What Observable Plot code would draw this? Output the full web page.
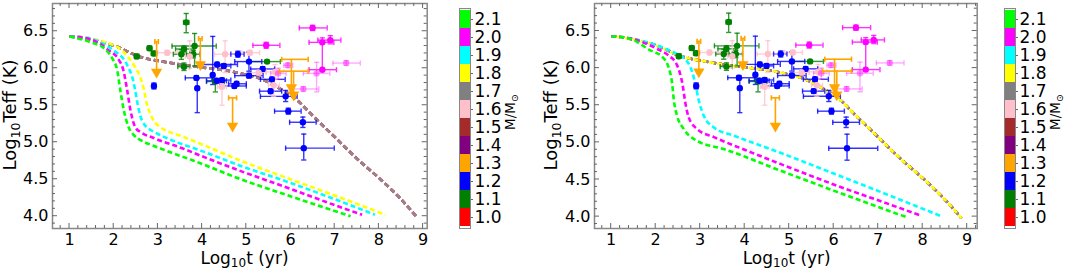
<!DOCTYPE html>
<html><head><meta charset="utf-8">
<script src="https://cdn.jsdelivr.net/npm/d3@7"></script>
<script src="https://cdn.jsdelivr.net/npm/@observablehq/plot@0.6"></script>
<style>
body{margin:0;background:#fff;font-family:"DejaVu Sans";}
#root{position:relative;width:1065px;height:270px;overflow:hidden;background:#fff;}
#root > svg{position:absolute;top:0;}
</style></head><body><div id="root"></div>
<script>
// ---------- colour bar categories ----------
const massLevels = ["1.0","1.1","1.2","1.3","1.4","1.5","1.6","1.7","1.8","1.9","2.0","2.1"];
const massColors = ["#ff0000","#008000","#0000ff","#ffa500","#800080","#a52a2a","#ffc0cb","#808080","#ffff00","#00ffff","#ff00ff","#00ff00"];

// ---------- axis ticks ----------
const xTickValues = [1,2,3,4,5,6,7,8,9];
const yTickValues = [4.0,4.5,5.0,5.5,6.0,6.5];

// ---------- model tracks ----------
// shared upper track (low masses)
const upperLogT    = [1.0,1.55,2.08,2.52,3.21,4.0,4.64,4.87,5.4,5.77,6.07,6.5,7.0,7.5,8.07,8.5,8.87];
const upperLogTeff = [6.43,6.38,6.29,6.17,6.08,6.01,5.96,5.93,5.84,5.72,5.61,5.36,5.07,4.78,4.48,4.23,3.98];
// left panel
const leftYellowT    = [1.0,1.4,1.81,2.19,2.38,2.5,2.6,2.68,2.75,2.83,2.93,3.06,3.21,3.5,4.0,4.83,6.0,7.0,8.15];
const leftYellowTeff = [6.43,6.41,6.35,6.24,6.11,6.0,5.88,5.72,5.52,5.38,5.27,5.20,5.15,5.09,4.97,4.76,4.50,4.28,4.02];
const leftCyanT      = [1.0,1.4,1.7,2.0,2.24,2.34,2.42,2.48,2.54,2.6,2.68,2.8,2.91,3.3,4.0,4.83,6.0,7.0,7.91];
const leftCyanTeff   = [6.43,6.41,6.35,6.24,6.11,6.0,5.88,5.72,5.52,5.36,5.25,5.18,5.14,5.03,4.88,4.69,4.45,4.23,4.02];
const leftMagentaT   = [1.0,1.35,1.63,1.89,2.12,2.22,2.30,2.38,2.49,2.6,2.68,2.85,3.06,3.5,4.0,4.83,6.0,7.0,7.62];
const leftMagentaTeff= [6.43,6.41,6.35,6.24,6.11,5.97,5.72,5.43,5.20,5.14,5.11,5.07,5.02,4.93,4.81,4.62,4.37,4.15,4.02];
const leftLimeT      = [1.0,1.48,1.78,1.97,2.08,2.15,2.23,2.34,2.45,2.55,2.7,2.91,3.3,3.81,4.83,6.0,7.0,7.36];
const leftLimeTeff   = [6.43,6.35,6.27,6.13,5.97,5.70,5.43,5.20,5.10,5.05,5.00,4.95,4.86,4.75,4.51,4.27,4.07,4.0];
// right panel
const rightCyanT      = [1.0,1.6,2.1,2.41,2.6,2.74,2.82,2.89,2.97,3.08,3.31,3.76,4.8,6.0,6.98,8.44];
const rightCyanTeff   = [6.43,6.38,6.29,6.21,6.15,6.06,5.95,5.79,5.56,5.36,5.20,5.09,4.86,4.58,4.35,4.0];
const rightMagentaT   = [1.0,1.5,2.03,2.29,2.48,2.6,2.67,2.74,2.93,3.31,4.0,4.8,6.38,7.0,7.97];
const rightMagentaTeff= [6.43,6.39,6.26,6.17,6.04,5.79,5.52,5.34,5.18,5.07,4.90,4.71,4.35,4.22,4.01];
const rightLimeT      = [1.0,1.4,1.88,2.15,2.29,2.37,2.41,2.48,2.63,2.93,3.53,4.8,6.0,7.0,7.65];
const rightLimeTeff   = [6.43,6.40,6.24,6.15,6.01,5.79,5.56,5.36,5.18,5.02,4.91,4.62,4.35,4.13,3.99];

// ---------- observed remnants ----------
const obsMass = ["1.1","1.1","1.1","1.1","1.1","1.1","1.1","1.1","1.1","1.1","1.1",
  "1.2","1.2","1.2","1.2","1.2","1.2","1.2","1.2","1.2","1.2","1.2","1.2","1.2","1.2","1.2","1.2","1.2","1.2","1.2","1.2",
  "1.6","1.6","1.6","1.6","1.6","1.6","1.6","1.6",
  "2.0","2.0","2.0","2.0","2.0",
  "2.0","2.0","2.0","2.0","2.0"];
const obsLogT = [3.64,2.81,2.91,2.52,3.83,3.59,3.53,3.80,3.59,4.30,5.47,
  2.91,3.89,3.87,4.24,4.34,4.49,4.33,4.45,4.73,4.78,4.81,5.06,5.37,5.06,5.58,5.55,5.89,5.95,6.28,6.30,
  3.21,3.72,4.52,4.45,5.08,5.28,5.62,5.65,
  7.26,6.59,6.29,5.94,5.72,
  6.50,5.45,6.72,6.90,6.72];
const obsLogTeff = [6.62,6.27,6.20,6.16,6.30,6.26,6.19,6.19,6.02,5.82,6.09,
  5.76,5.73,5.87,5.91,6.05,6.03,5.83,5.84,5.76,5.79,6.19,6.09,5.99,5.90,5.85,5.69,5.62,5.42,5.27,4.92,
  6.21,6.16,6.19,5.75,6.21,5.94,5.77,5.95,
  6.07,5.93,5.72,6.04,5.93,
  6.545,6.31,6.35,6.38,5.98];
const obsLogTMin = [3.58,2.76,2.85,2.47,3.32,3.40,3.35,3.65,3.45,4.10,5.10,
  2.87,3.86,3.62,4.21,3.98,4.35,4.10,4.25,4.40,4.60,4.65,4.74,5.10,4.74,5.32,5.30,5.32,5.64,5.98,5.89,
  3.00,3.62,4.28,4.35,4.90,5.10,5.50,5.45,
  6.96,6.29,6.00,5.85,5.55,
  6.20,5.15,6.42,6.62,6.42];
const obsLogTMax = [3.70,2.86,2.97,2.57,4.32,3.80,3.72,3.95,3.72,4.50,5.77,
  2.95,3.92,4.22,4.27,4.80,4.65,4.55,4.65,5.00,5.00,4.95,5.35,5.64,5.38,5.88,5.80,6.15,6.24,6.58,6.99,
  3.45,3.82,4.80,4.55,5.30,5.45,5.75,5.85,
  7.58,6.89,6.64,6.05,5.90,
  6.83,5.76,6.98,7.14,7.04];
const obsLogTeffMin = [6.48,6.24,6.17,6.13,6.03,6.22,6.12,6.14,5.97,5.68,6.07,
  5.72,5.40,5.84,5.78,6.02,6.00,5.80,5.81,5.73,5.76,6.15,5.96,5.96,5.87,5.82,5.66,5.55,5.38,5.20,4.76,
  6.18,6.00,5.94,5.50,6.18,5.91,5.62,5.85,
  6.04,5.68,5.69,6.01,5.85,
  6.51,6.27,6.33,6.33,5.96];
const obsLogTeffMax = [6.74,6.30,6.23,6.19,6.47,6.30,6.25,6.24,6.07,5.86,6.11,
  5.80,5.86,5.90,6.43,6.08,6.06,5.86,5.87,5.79,5.82,6.23,6.22,6.02,5.93,5.88,5.72,5.70,5.46,5.34,5.11,
  6.24,6.37,6.37,5.83,6.24,5.97,5.85,6.05,
  6.10,6.08,5.75,6.07,6.00,
  6.58,6.35,6.37,6.44,6.41];
const obsAlpha = [1,1,1,1,1,1,1,1,1,1,1,
  1,1,1,1,1,1,1,1,1,1,1,1,1,1,1,1,1,1,1,1,
  1,1,1,1,1,1,1,1,
  0.42,0.42,0.42,0.42,0.42,
  1,1,1,1,1];

// ---------- upper limits (orange, 1.3) ----------
const ulMass = ["1.3","1.3","1.3","1.3","1.3"];
const ulLogT = [2.97,3.96,4.69,6.02,6.07];
const ulLogTMin = [2.93,3.92,4.60,5.80,5.75];
const ulLogTMax = [3.01,4.00,4.78,6.40,6.40];
const ulLogTeffTop = [6.36,6.40,5.60,6.12,5.96];
const ulLogTeffTip = [5.95,6.05,5.22,5.74,5.64];

// ---------- helpers ----------
const colorOf = m => massColors[massLevels.indexOf(m)];
const obs = obsLogT.map((t, i) => ({t, teff: obsLogTeff[i], tmin: obsLogTMin[i], tmax: obsLogTMax[i],
  emin: obsLogTeffMin[i], emax: obsLogTeffMax[i], color: colorOf(obsMass[i]), alpha: obsAlpha[i]}));
const uls = ulLogT.map((t, i) => ({t, tmin: ulLogTMin[i], tmax: ulLogTMax[i], top: ulLogTeffTop[i], tip: ulLogTeffTip[i], color: colorOf(ulMass[i])}));

const capV = {draw(ctx, size){ const r = Math.sqrt(size/Math.PI); ctx.moveTo(0,-r); ctx.lineTo(0,r); }};
const capH = {draw(ctx, size){ const r = Math.sqrt(size/Math.PI); ctx.moveTo(-r,0); ctx.lineTo(r,0); }};

const FONT = "DejaVu Sans";
const root = document.getElementById("root");

function panel(cfg) {
  const marks = [];
  for (const c of cfg.curves) {
    const data = c.t.map((t, i) => ({t, teff: c.teff[i]}));
    marks.push(Plot.line(data, {x: "t", y: "teff", stroke: colorOf(c.mass), strokeWidth: 2.6,
      strokeDasharray: "5 3", strokeDashoffset: c.offset || 0, strokeLinecap: "butt",
      strokeOpacity: c.opacity, curve: "monotone-x"}));
  }
  const eo = d => d.alpha * 0.8;
  marks.push(
    Plot.ruleY(obs, {y: "teff", x1: "tmin", x2: "tmax", stroke: "color", strokeOpacity: eo, strokeWidth: 1.4}),
    Plot.ruleX(obs, {x: "t", y1: "emin", y2: "emax", stroke: "color", strokeOpacity: eo, strokeWidth: 1.4}),
    Plot.dot(obs, {x: "tmin", y: "teff", symbol: capV, r: 2.6, fill: "none", stroke: "color", strokeOpacity: eo, strokeWidth: 1.4}),
    Plot.dot(obs, {x: "tmax", y: "teff", symbol: capV, r: 2.6, fill: "none", stroke: "color", strokeOpacity: eo, strokeWidth: 1.4}),
    Plot.dot(obs, {x: "t", y: "emin", symbol: capH, r: 2.6, fill: "none", stroke: "color", strokeOpacity: eo, strokeWidth: 1.4}),
    Plot.dot(obs, {x: "t", y: "emax", symbol: capH, r: 2.6, fill: "none", stroke: "color", strokeOpacity: eo, strokeWidth: 1.4}),
    Plot.dot(obs, {x: "t", y: "teff", r: 3.2, fill: "color", fillOpacity: d => d.alpha, stroke: "none"}),
    Plot.ruleX(uls, {x: "t", y1: "tip", y2: "top", stroke: "color", strokeWidth: 1.6}),
    Plot.ruleY(uls, {y: "top", x1: "tmin", x2: "tmax", stroke: "color", strokeWidth: 1.6}),
    Plot.dot(uls, {x: "tmin", y: "top", symbol: capV, r: 2.6, fill: "none", stroke: "color", strokeWidth: 1.6}),
    Plot.dot(uls, {x: "tmax", y: "top", symbol: capV, r: 2.6, fill: "none", stroke: "color", strokeWidth: 1.6}),
    Plot.dot(uls, {x: "t", y: "tip", symbol: "triangle", rotate: 180, r: 4.2, fill: "color", stroke: "none"}),
    Plot.frame({stroke: "#888", strokeWidth: 1.5}),
    Plot.axisX({ticks: xTickValues, tickSize: 0, tickPadding: 5, tickFormat: d => String(d), label: null, fontSize: 16}),
    Plot.axisY({ticks: yTickValues, tickSize: 0, tickPadding: 4, tickFormat: d3.format(".1f"), label: null, fontSize: 16})
  );
  const svg = Plot.plot({
    width: cfg.width, height: 270,
    marginLeft: cfg.ml, marginRight: cfg.mr, marginTop: 3, marginBottom: 42,
    x: {domain: cfg.xDomain}, y: {domain: cfg.yDomain},
    color: {type: "identity"}, opacity: {type: "identity"},
    style: {fontFamily: FONT, fontSize: "16px", color: "#000", background: "transparent", overflow: "visible"},
    marks
  });
  svg.style.position = "absolute";
  svg.style.left = cfg.left + "px";
  svg.style.top = "0px";
  // inward ticks on all four sides
  const sx = svg.scale("x"), sy = svg.scale("y");
  const x0 = cfg.ml, x1 = cfg.width - cfg.mr, y0 = 3, y1 = 270 - 42;
  const g = d3.select(svg).append("g").attr("stroke", "#666").attr("stroke-width", 1);
  const seg = (a, b, c, d) => g.append("line").attr("x1", a).attr("y1", b).attr("x2", c).attr("y2", d);
  const xMinor = d3.range(0.8, 9.21, 0.2).filter(v => Math.abs(v - Math.round(v)) > 0.05);
  const yMinor = d3.range(3.9, 6.85, 0.1).filter(v => Math.abs(v * 2 - Math.round(v * 2)) > 0.05);
  for (const v of xTickValues) { const p = sx.apply(v); seg(p, y1, p, y1 - 5); seg(p, y0, p, y0 + 5); }
  for (const v of xMinor) { const p = sx.apply(v); if (p > x0 + 1 && p < x1 - 1) { seg(p, y1, p, y1 - 3); seg(p, y0, p, y0 + 3); } }
  for (const v of yTickValues) { const p = sy.apply(v); seg(x0, p, x0 + 5, p); seg(x1, p, x1 - 5, p); }
  for (const v of yMinor) { const p = sy.apply(v); if (p > y0 + 1 && p < y1 - 1) { seg(x0, p, x0 + 3, p); seg(x1, p, x1 - 3, p); } }
  // axis titles with subscripts
  const s = d3.select(svg);
  const xt = s.append("text").attr("x", cfg.xLabelX).attr("y", 263.5).attr("text-anchor", "middle")
    .attr("font-size", 17).attr("fill", "#000").attr("font-family", FONT);
  xt.append("tspan").text("Log");
  xt.append("tspan").attr("font-size", 12).attr("dy", 3.5).text("10");
  xt.append("tspan").attr("dy", -3.5).text("t (yr)");
  const yt = s.append("text").attr("transform", `translate(${cfg.yLabelX},115) rotate(-90)`).attr("text-anchor", "middle")
    .attr("font-size", 18).attr("fill", "#000").attr("font-family", FONT);
  yt.append("tspan").text("Log");
  yt.append("tspan").attr("font-size", 12.5).attr("dy", 4).text("10");
  yt.append("tspan").attr("dy", -4).text("Teff (K)");
  root.appendChild(svg);
}

function colorbar(cfg) {
  const svg = Plot.plot({
    width: cfg.width, height: 270,
    marginLeft: 14, marginRight: cfg.width - 25, marginTop: 8, marginBottom: 42,
    x: {axis: null},
    y: {type: "band", domain: massLevels.slice().reverse(), padding: 0, axis: null},
    color: {type: "identity"},
    style: {fontFamily: FONT, fontSize: "17px", color: "#000", background: "transparent", overflow: "visible"},
    marks: [
      Plot.cell(massLevels, {y: d => d, fill: (d, i) => massColors[i]}),
      Plot.frame({stroke: "#888", strokeWidth: 1}),
      Plot.axisY({anchor: "right", tickSize: 2, tickPadding: 2, label: null, fontSize: 17, stroke: "#666"})
    ]
  });
  svg.style.position = "absolute";
  svg.style.left = cfg.left + "px";
  svg.style.top = "0px";
  const t = d3.select(svg).append("text").attr("transform", `translate(${cfg.labelX},112) rotate(-90)`)
    .attr("text-anchor", "middle").attr("font-size", 13.5).attr("fill", "#000").attr("font-family", FONT);
  t.append("tspan").text("M/M");
  t.append("tspan").attr("font-size", 9.5).attr("dy", 3).text("⊙");
  root.appendChild(svg);
}

const upperMasses = ["1.0","1.1","1.2","1.3","1.4","1.5","1.6","1.7"];
const leftCurves = upperMasses.map(m => ({mass: m, t: upperLogT, teff: upperLogTeff, opacity: 0.55}))
  .concat([
    {mass: "1.8", t: leftYellowT, teff: leftYellowTeff, opacity: 1},
    {mass: "1.9", t: leftCyanT, teff: leftCyanTeff, opacity: 1},
    {mass: "2.0", t: leftMagentaT, teff: leftMagentaTeff, opacity: 1},
    {mass: "2.1", t: leftLimeT, teff: leftLimeTeff, opacity: 1}
  ]);
const rightCurves = upperMasses.map(m => ({mass: m, t: upperLogT, teff: upperLogTeff, opacity: 0.55}))
  .concat([
    {mass: "1.8", t: upperLogT, teff: upperLogTeff, opacity: 1, offset: 2},
    {mass: "1.9", t: rightCyanT, teff: rightCyanTeff, opacity: 1},
    {mass: "2.0", t: rightMagentaT, teff: rightMagentaTeff, opacity: 1},
    {mass: "2.1", t: rightLimeT, teff: rightLimeTeff, opacity: 1}
  ]);

panel({left: 0, width: 440, ml: 52, mr: 13.3, xDomain: [0.615, 9.093], yDomain: [3.834, 6.875],
  curves: leftCurves, xLabelX: 244.5, yLabelX: 16});
colorbar({left: 445, width: 90, labelX: 70});
panel({left: 540, width: 445, ml: 54, mr: 8.3, xDomain: [0.625, 9.225], yDomain: [3.84, 6.87],
  curves: rightCurves, xLabelX: 246.7, yLabelX: 17});
colorbar({left: 990, width: 75, labelX: 70});
</script></body></html>
